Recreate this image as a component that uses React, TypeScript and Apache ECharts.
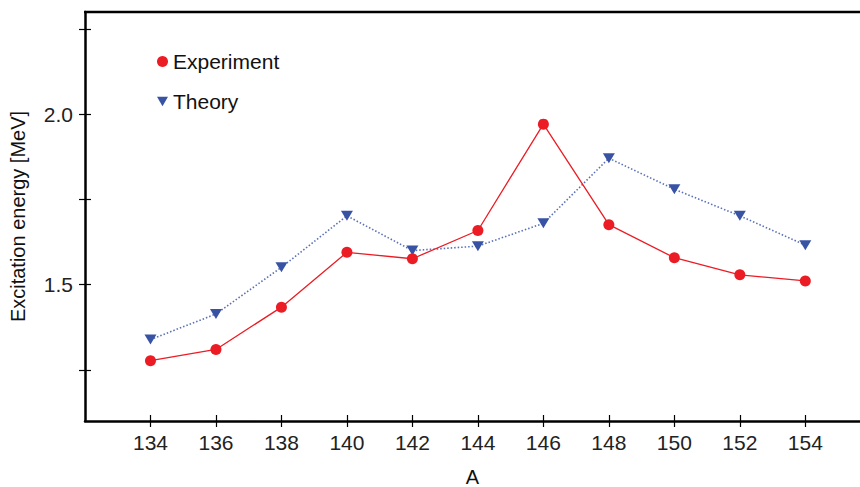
import React, { useEffect, useRef } from "react";
import * as echarts from "echarts";

const massNumbers = [134, 136, 138, 140, 142, 144, 146, 148, 150, 152, 154];
const experiment = [1.277, 1.31, 1.434, 1.595, 1.576, 1.659, 1.971, 1.676, 1.579, 1.529, 1.511];
const theory = [1.339, 1.414, 1.551, 1.702, 1.6, 1.613, 1.68, 1.871, 1.78, 1.702, 1.616];
const yTicks = [1.25, 1.5, 1.75, 2.0, 2.25];
const yLabels = [1.5, 2.0];

const FONT = "'Liberation Sans', Arial, Helvetica, sans-serif";
const RED = "#ec1c24";
const BLUE = "#3953a4";
const TRI = "path://M0,0L10,0L5,8.66Z";

export default function App() {
  const ref = useRef<HTMLDivElement>(null);
  useEffect(() => {
    if (!ref.current) return;
    const chart = echarts.init(ref.current, null, { renderer: "svg" });
    const expData = massNumbers.map((a, i) => [a, experiment[i]]);
    const thData = massNumbers.map((a, i) => [a, theory[i]]);
    const xBase = {
      type: "value" as const,
      min: 132,
      max: 155.67,
      splitLine: { show: false },
    };
    const yBase = {
      type: "value" as const,
      min: 1.1,
      max: 2.3,
      splitLine: { show: false },
    };
    chart.setOption({
      animation: false,
      backgroundColor: "#ffffff",
      textStyle: { fontFamily: FONT },
      grid: {
        left: 85,
        right: 0,
        top: 12,
        bottom: 66,
        containLabel: false,
        outerBoundsMode: "none",
      },
      legend: {
        orient: "vertical",
        left: 152,
        top: 46,
        itemWidth: 11,
        itemHeight: 11,
        itemGap: 19,
        textStyle: { fontSize: 21, color: "#111", fontFamily: FONT },
        data: [
          { name: "Experiment", icon: "circle" },
          { name: "Theory", icon: TRI, itemStyle: { color: BLUE } },
        ],
      },
      xAxis: [
        {
          ...xBase,
          position: "bottom",
          name: "A",
          nameLocation: "middle",
          nameGap: 46,
          nameTextStyle: { fontSize: 20, color: "#111", fontFamily: FONT },
          axisLine: { show: true, onZero: false, lineStyle: { color: "#000", width: 2.5 } },
          axisTick: {
            show: true,
            length: 6,
            inside: false,
            customValues: massNumbers,
            lineStyle: { color: "#000", width: 1.2 },
          },
          axisLabel: {
            show: true,
            customValues: massNumbers,
            margin: 11,
            fontSize: 21,
            color: "#222",
            fontFamily: FONT,
          },
        },
        {
          ...xBase,
          position: "bottom",
          axisLine: { show: false, onZero: false },
          axisTick: {
            show: true,
            length: 6,
            inside: true,
            customValues: massNumbers,
            lineStyle: { color: "#000", width: 1.2 },
          },
          axisLabel: { show: false },
        },
      ],
      yAxis: [
        {
          ...yBase,
          position: "left",
          name: "Excitation energy [MeV]",
          nameLocation: "middle",
          nameGap: 57,
          nameTextStyle: { fontSize: 20, color: "#111", fontFamily: FONT },
          axisLine: { show: true, onZero: false, lineStyle: { color: "#000", width: 2.5 } },
          axisTick: {
            show: true,
            length: 6,
            inside: false,
            customValues: yTicks,
            lineStyle: { color: "#000", width: 1.2 },
          },
          axisLabel: {
            show: true,
            customValues: yLabels,
            margin: 12,
            fontSize: 21,
            color: "#222",
            fontFamily: FONT,
            formatter: (v: number) => v.toFixed(1),
          },
        },
        {
          ...yBase,
          position: "left",
          axisLine: { show: false, onZero: false },
          axisTick: {
            show: true,
            length: 6,
            inside: true,
            customValues: yTicks,
            lineStyle: { color: "#000", width: 1.2 },
          },
          axisLabel: { show: false },
        },
      ],
      graphic: [
        {
          type: "line",
          shape: { x1: 84, y1: 12, x2: 860, y2: 12 },
          style: { stroke: "#000", lineWidth: 2.5 },
          silent: true,
        },
      ],
      series: [
        {
          name: "Theory",
          type: "line",
          xAxisIndex: 0,
          yAxisIndex: 0,
          data: thData,
          symbol: "triangle",
          symbolRotate: 180,
          symbolSize: [12, 10],
          itemStyle: { color: BLUE },
          lineStyle: { color: "#5a70b8", width: 1.6, type: [1.5, 2] },
          z: 2,
        },
        {
          name: "Experiment",
          type: "line",
          xAxisIndex: 0,
          yAxisIndex: 0,
          data: expData,
          symbol: "circle",
          symbolSize: 11,
          itemStyle: { color: RED },
          lineStyle: { color: RED, width: 1.3 },
          z: 3,
        },
      ],
    });
    return () => chart.dispose();
  }, []);
  return (
    <div
      ref={ref}
      style={{ position: "fixed", left: 0, top: 0, width: 860, height: 487, background: "#fff" }}
    />
  );
}
